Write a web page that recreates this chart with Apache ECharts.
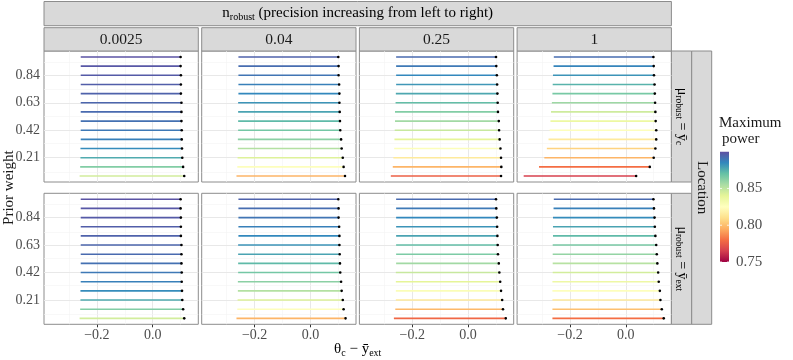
<!DOCTYPE html>
<html>
<head>
<meta charset="utf-8">
<script src="https://cdn.jsdelivr.net/npm/echarts@6/dist/echarts.min.js"></script>
<style>
  html, body { margin: 0; padding: 0; background: #fff; }
  #chart { width: 793px; height: 360px; }
</style>
</head>
<body>
<div id="chart"></div>
<script>
/* data: prior weights (top -> bottom) and one start/end/power array per panel */
var weights = [0.98, 0.91, 0.84, 0.77, 0.70, 0.63, 0.56, 0.49, 0.42, 0.35, 0.28, 0.21, 0.14, 0.07];
var nRobust = ['0.0025', '0.04', '0.25', '1'];
var yTicks = [0.21, 0.42, 0.63, 0.84];
var xTicks = [-0.2, 0.0];
var legendTicks = [0.85, 0.80, 0.75];

/* row 1 : mu_robust = ybar_c */
var c1Start = [-0.258, -0.258, -0.258, -0.258, -0.258, -0.258, -0.258, -0.258, -0.258, -0.258, -0.259, -0.259, -0.260, -0.262];
var c1End   = [0.100, 0.100, 0.101, 0.101, 0.101, 0.103, 0.103, 0.103, 0.104, 0.104, 0.105, 0.106, 0.109, 0.113];
var c1Power = [0.899, 0.898, 0.897, 0.896, 0.895, 0.894, 0.893, 0.891, 0.889, 0.887, 0.884, 0.876, 0.864, 0.845];

var c2Start = [-0.258, -0.258, -0.258, -0.258, -0.258, -0.259, -0.259, -0.259, -0.259, -0.260, -0.260, -0.261, -0.262, -0.265];
var c2End   = [0.100, 0.101, 0.101, 0.103, 0.104, 0.104, 0.105, 0.106, 0.107, 0.110, 0.112, 0.116, 0.119, 0.124];
var c2Power = [0.895, 0.892, 0.890, 0.887, 0.885, 0.882, 0.878, 0.872, 0.867, 0.862, 0.853, 0.842, 0.826, 0.797];

var c3Start = [-0.258, -0.258, -0.258, -0.258, -0.259, -0.260, -0.262, -0.262, -0.263, -0.264, -0.265, -0.268, -0.270, -0.277];
var c3End   = [0.100, 0.101, 0.103, 0.104, 0.105, 0.106, 0.107, 0.110, 0.111, 0.113, 0.116, 0.118, 0.119, 0.118];
var c3Power = [0.893, 0.889, 0.885, 0.881, 0.877, 0.871, 0.864, 0.857, 0.848, 0.840, 0.827, 0.815, 0.797, 0.776];

var c4Start = [-0.258, -0.259, -0.261, -0.262, -0.263, -0.265, -0.268, -0.270, -0.273, -0.277, -0.283, -0.292, -0.311, -0.366];
var c4End   = [0.099, 0.100, 0.101, 0.103, 0.104, 0.105, 0.106, 0.107, 0.109, 0.109, 0.106, 0.100, 0.086, 0.037];
var c4Power = [0.892, 0.886, 0.882, 0.874, 0.866, 0.858, 0.846, 0.836, 0.826, 0.815, 0.806, 0.797, 0.780, 0.766];

/* row 2 : mu_robust = ybar_ext */
var e1Start = [-0.258, -0.258, -0.258, -0.258, -0.258, -0.258, -0.258, -0.258, -0.258, -0.258, -0.259, -0.259, -0.260, -0.262];
var e1End   = [0.100, 0.100, 0.101, 0.101, 0.101, 0.103, 0.103, 0.103, 0.104, 0.104, 0.105, 0.106, 0.109, 0.113];
var e1Power = [0.899, 0.898, 0.897, 0.896, 0.895, 0.894, 0.893, 0.891, 0.889, 0.887, 0.884, 0.876, 0.864, 0.845];

var e2Start = [-0.258, -0.258, -0.258, -0.258, -0.258, -0.259, -0.259, -0.259, -0.259, -0.260, -0.260, -0.261, -0.262, -0.265];
var e2End   = [0.100, 0.101, 0.101, 0.103, 0.104, 0.104, 0.105, 0.106, 0.107, 0.110, 0.112, 0.116, 0.119, 0.126];
var e2Power = [0.895, 0.892, 0.890, 0.887, 0.885, 0.882, 0.878, 0.872, 0.867, 0.862, 0.853, 0.842, 0.826, 0.797];

var e3Start = [-0.258, -0.258, -0.258, -0.258, -0.258, -0.258, -0.258, -0.258, -0.259, -0.259, -0.259, -0.259, -0.261, -0.266];
var e3End   = [0.100, 0.101, 0.103, 0.104, 0.105, 0.106, 0.107, 0.110, 0.112, 0.115, 0.118, 0.122, 0.125, 0.135];
var e3Power = [0.893, 0.889, 0.885, 0.882, 0.878, 0.871, 0.865, 0.857, 0.848, 0.840, 0.828, 0.815, 0.798, 0.778];

var e4Start = [-0.258, -0.259, -0.261, -0.261, -0.261, -0.262, -0.262, -0.262, -0.262, -0.263, -0.263, -0.263, -0.263, -0.263];
var e4End   = [0.099, 0.101, 0.103, 0.104, 0.106, 0.109, 0.111, 0.113, 0.116, 0.118, 0.122, 0.124, 0.129, 0.136];
var e4Power = [0.893, 0.887, 0.884, 0.878, 0.872, 0.866, 0.860, 0.852, 0.845, 0.835, 0.826, 0.815, 0.800, 0.780];

var panels = [
	[c1Start, c1End, c1Power], [c2Start, c2End, c2Power], [c3Start, c3End, c3Power], [c4Start, c4End, c4Power],
	[e1Start, e1End, e1Power], [e2Start, e2End, e2Power], [e3Start, e3End, e3Power], [e4Start, e4End, e4Power]
];

var spectral = ['#9E0142', '#D53E4F', '#F46D43', '#FDAE61', '#FEE08B', '#FFFFBF',
	'#E6F598', '#ABDDA4', '#66C2A5', '#3288BD', '#5E4FA2'];
var powerMin = 0.75, powerMax = 0.90;

/* layout */
var font = 'Liberation Serif';
var colLeft = [44, 201.7, 359.4, 517.1], panelW = 154.3;
var rowTop = [51, 193.3], panelH = 131;
var xMin = -0.3896, xMax = 0.1634;
var yMin = 0.0245, yMax = 1.0255;
var stripFill = '#d9d9d9', stripLine = '#8c8c8c';

function fmtX(v) {
	var s = Math.abs(v).toFixed(1);
	return v < -1e-9 ? '\u2212' + s : s;
}

function renderSeg(params, api) {
	var a = api.coord([api.value(0), api.value(2)]);
	var b = api.coord([api.value(1), api.value(2)]);
	return {
		type: 'group',
		children: [
			{ type: 'line', shape: { x1: a[0], y1: a[1], x2: b[0], y2: b[1] },
			  style: { stroke: api.visual('color'), lineWidth: 1.6 } },
			{ type: 'circle', shape: { cx: b[0], cy: b[1], r: 1.3 }, style: { fill: '#000' } }
		]
	};
}

/* minor + major gridlines as mark lines */
var gridMarks = [];
function gridLine(key, v, major) {
	var item = { lineStyle: { type: 'solid', color: major ? '#e8e8e8' : '#f3f3f3', width: major ? 1 : 0.6 } };
	item[key] = v;
	gridMarks.push(item);
}
[-0.3, -0.2, -0.1, 0.0, 0.1].forEach(function (v) {
	gridLine('xAxis', v, xTicks.some(function (t) { return Math.abs(t - v) < 1e-9; }));
});
[0.105].concat(yTicks.map(function (t) { return t + 0.105; })).forEach(function (v) { gridLine('yAxis', v, false); });
yTicks.forEach(function (v) { gridLine('yAxis', v, true); });

var grids = [], xAxes = [], yAxes = [], series = [], segIdx = [];
panels.forEach(function (p, i) {
	var r = Math.floor(i / 4), c = i % 4;
	grids.push({
		left: colLeft[c], top: rowTop[r], width: panelW, height: panelH,
		show: true, backgroundColor: '#fff', borderColor: '#8c8c8c', borderWidth: 1
	});
	xAxes.push({
		type: 'value', gridIndex: i, min: xMin, max: xMax,
		axisLine: { show: false }, splitLine: { show: false },
		axisTick: { show: r === 1, length: 3, lineStyle: { color: '#333' }, customValues: xTicks },
		axisLabel: { show: r === 1, customValues: xTicks, formatter: fmtX, margin: 4,
			fontFamily: font, fontSize: 14, color: '#4d4d4d' }
	});
	yAxes.push({
		type: 'value', gridIndex: i, min: yMin, max: yMax,
		axisLine: { show: false }, splitLine: { show: false },
		axisTick: { show: c === 0, length: 3, lineStyle: { color: '#333' }, customValues: yTicks },
		axisLabel: { show: c === 0, customValues: yTicks, margin: 4,
			formatter: function (v) { return v.toFixed(2); },
			fontFamily: font, fontSize: 14, color: '#4d4d4d' }
	});
	series.push({
		type: 'line', xAxisIndex: i, yAxisIndex: i, data: [], z: 1, silent: true,
		markLine: { silent: true, z: 1, symbol: ['none', 'none'], label: { show: false }, animation: false,
			data: gridMarks }
	});
	segIdx.push(series.length);
	series.push({
		type: 'custom', xAxisIndex: i, yAxisIndex: i, z: 10, animation: false,
		encode: { x: [0, 1], y: 2 },
		renderItem: renderSeg,
		data: weights.map(function (w, k) { return [p[0][k], p[1][k], w, p[2][k]]; })
	});
});

/* strips, titles and colour bar */
var textBase = { fontFamily: font, fill: '#1a1a1a' };
var rich = {
	m: { fontFamily: font, fontSize: 15, lineHeight: 18, color: '#1a1a1a' },
	s: { fontFamily: font, fontSize: 10, lineHeight: 10, verticalAlign: 'bottom', color: '#1a1a1a' },
	rm: { fontFamily: font, fontSize: 14, lineHeight: 17, color: '#1a1a1a' },
	rs: { fontFamily: font, fontSize: 9.5, lineHeight: 9, verticalAlign: 'bottom', color: '#1a1a1a' }
};
var graphics = [];
function strip(x, y, w, h) {
	graphics.push({ type: 'rect', shape: { x: x, y: y, width: w, height: h },
		style: { fill: stripFill, stroke: stripLine, lineWidth: 1 }, z: 0 });
}
var stripsRight = colLeft[3] + panelW;
strip(colLeft[0], 1.5, stripsRight - colLeft[0], 24.2);
graphics.push({ type: 'text', x: (colLeft[0] + stripsRight) / 2, y: 13.5,
	style: { text: '{m|n}{s|robust}{m| (precision increasing from left to right)}', rich: rich,
		textAlign: 'center', textVerticalAlign: 'middle' } });
nRobust.forEach(function (lab, c) {
	strip(colLeft[c], 27.7, panelW, 23.3);
	graphics.push({ type: 'text', x: colLeft[c] + panelW / 2, y: 39.5,
		style: Object.assign({ text: lab, fontSize: 15.5, textAlign: 'center', textVerticalAlign: 'middle' }, textBase) });
});
var rowLabels = ['{rm|\u03bc}{rs|robust}{rm| = \u0233}{rs|c}', '{rm|\u03bc}{rs|robust}{rm| = \u0233}{rs|ext}'];
rowLabels.forEach(function (lab, r) {
	strip(stripsRight, rowTop[r], 20.3, panelH);
	graphics.push({ type: 'text', x: stripsRight + 10.5, y: rowTop[r] + panelH / 2, rotation: -Math.PI / 2,
		style: { text: lab, rich: rich, textAlign: 'center', textVerticalAlign: 'middle' } });
});
strip(stripsRight + 20.3, rowTop[0], 20, rowTop[1] + panelH - rowTop[0]);
graphics.push({ type: 'text', x: stripsRight + 30.5, y: (rowTop[0] + rowTop[1] + panelH) / 2, rotation: -Math.PI / 2,
	style: Object.assign({ text: 'Location', fontSize: 15, textAlign: 'center', textVerticalAlign: 'middle' }, textBase) });

graphics.push({ type: 'text', x: 9, y: (rowTop[0] + rowTop[1] + panelH) / 2, rotation: Math.PI / 2,
	style: Object.assign({ text: 'Prior weight', fontSize: 15, textAlign: 'center', textVerticalAlign: 'middle' }, textBase) });
graphics.push({ type: 'text', x: (colLeft[0] + stripsRight) / 2, y: 349,
	style: { text: '{m|\u03b8}{s|c}{m| \u2212 \u0233}{s|ext}', rich: rich, textAlign: 'center', textVerticalAlign: 'middle' } });

/* colour bar legend */
var barX = 720, barW = 9, barTop = 151.7, barBottom = 262;
graphics.push({ type: 'text', x: 719, y: 123,
	style: Object.assign({ text: 'Maximum', fontSize: 15, textAlign: 'left', textVerticalAlign: 'middle' }, textBase) });
graphics.push({ type: 'text', x: 722, y: 139,
	style: Object.assign({ text: 'power', fontSize: 15, textAlign: 'left', textVerticalAlign: 'middle' }, textBase) });
graphics.push({ type: 'rect', shape: { x: barX, y: barTop, width: barW, height: barBottom - barTop },
	style: { fill: new echarts.graphic.LinearGradient(0, 1, 0, 0, spectral.map(function (col, k) {
		return { offset: k / (spectral.length - 1), color: col };
	})) } });
legendTicks.forEach(function (v) {
	var y = barBottom - (v - powerMin) / (powerMax - powerMin) * (barBottom - barTop);
	graphics.push({ type: 'line', shape: { x1: barX, y1: y, x2: barX + 2, y2: y }, style: { stroke: '#fff', lineWidth: 0.8 } });
	graphics.push({ type: 'line', shape: { x1: barX + barW - 2, y1: y, x2: barX + barW, y2: y }, style: { stroke: '#fff', lineWidth: 0.8 } });
	graphics.push({ type: 'text', x: 736, y: y,
		style: { text: v.toFixed(2), fontFamily: font, fontSize: 15, fill: '#4d4d4d', textAlign: 'left', textVerticalAlign: 'middle' } });
});

var chart = echarts.init(document.getElementById('chart'), null, { renderer: 'canvas' });
chart.setOption({
	animation: false,
	backgroundColor: '#fff',
	grid: grids,
	xAxis: xAxes,
	yAxis: yAxes,
	visualMap: {
		type: 'continuous', show: false, min: powerMin, max: powerMax,
		dimension: 3, seriesIndex: segIdx,
		inRange: { color: spectral }
	},
	graphic: graphics,
	series: series
});
</script>
</body>
</html>
